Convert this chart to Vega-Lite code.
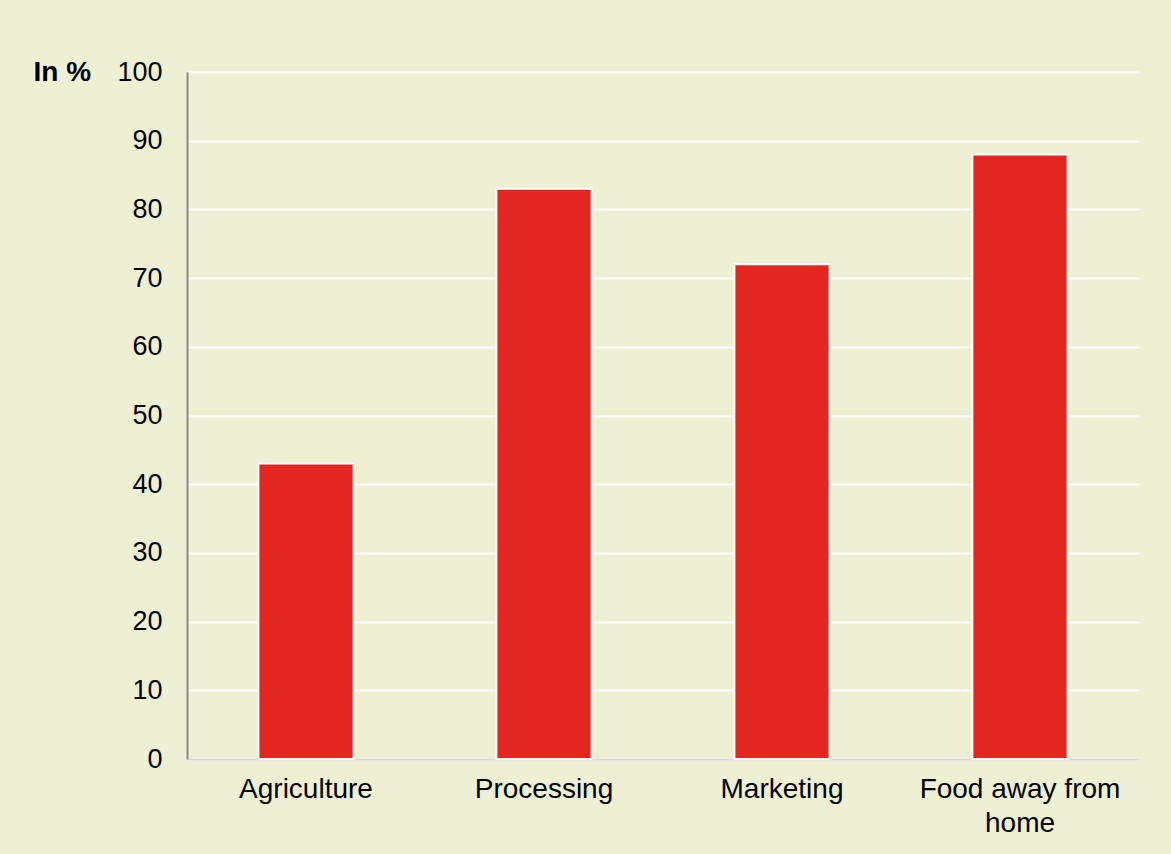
{
  "$schema": "https://vega.github.io/schema/vega-lite/v6.json",
  "width": 952,
  "height": 687,
  "autosize": {"type": "none"},
  "padding": {"left": 187, "top": 72, "right": 32, "bottom": 95},
  "background": "#EDF0D3",
  "data": {
    "values": [
      {"sector": "Agriculture", "value": 43},
      {"sector": "Processing", "value": 83},
      {"sector": "Marketing", "value": 72},
      {"sector": "Food away from home", "value": 88}
    ]
  },
  "mark": {"type": "bar", "color": "#E3261F", "stroke": "white", "strokeWidth": 2},
  "encoding": {
    "x": {
      "field": "sector",
      "type": "nominal",
      "sort": null,
      "scale": {"paddingInner": 0.6, "paddingOuter": 0.3},
      "axis": {
        "title": null,
        "labelAngle": 0,
        "labelFont": "Liberation Sans",
        "labelFontSize": 28,
        "labelColor": "#000000",
        "labelPadding": 16,
        "labelLineHeight": 34,
        "labelLimit": 400,
        "labelExpr": "datum.label == 'Food away from home' ? ['Food away from', 'home'] : datum.label",
        "ticks": false,
        "domainColor": "#D9D9D9",
        "domainWidth": 2,
        "grid": false
      }
    },
    "y": {
      "field": "value",
      "type": "quantitative",
      "scale": {"domain": [0, 100]},
      "axis": {
        "title": "In %",
        "titleAngle": 0,
        "titleAlign": "left",
        "titleBaseline": "middle",
        "titleX": -154,
        "titleY": 0,
        "titleFont": "Liberation Sans",
        "titleFontSize": 28,
        "titleFontWeight": "bold",
        "titleColor": "#000000",
        "values": [0, 10, 20, 30, 40, 50, 60, 70, 80, 90, 100],
        "labelFont": "Liberation Sans",
        "labelFontSize": 27,
        "labelColor": "#000000",
        "labelPadding": 25,
        "ticks": false,
        "domainColor": "#898989",
        "domainWidth": 2,
        "gridColor": "#FFFFFF",
        "gridWidth": 2,
        "gridOpacity": 1
      }
    }
  },
  "config": {"view": {"stroke": null}}
}
